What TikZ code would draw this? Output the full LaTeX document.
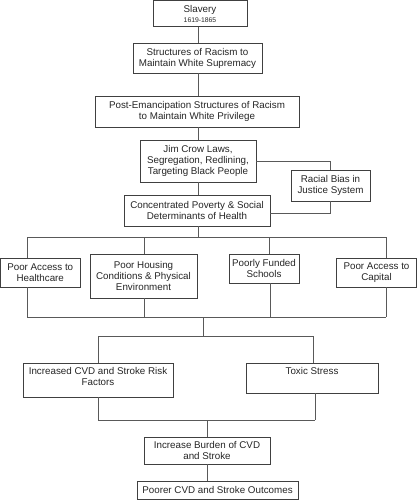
\documentclass[tikz,border=0pt]{standalone}
\usepackage{fontspec}
\setmainfont{Liberation Sans}
\begin{document}
\begin{tikzpicture}[x=1pt,y=-1pt,
  box/.style={draw=black!75, line width=0.9pt, fill=white, inner sep=0pt, align=center,
    font=\fontsize{9.8}{11}\selectfont, text=black!85},
  txt/.style={inner sep=0pt, align=center, font=\fontsize{9.8}{11}\selectfont, text=black!85},
  conn/.style={draw=black!65, line width=0.9pt}]
\useasboundingbox (0,0) rectangle (417,500);
% boxes
\node[box, minimum width=94, minimum height=26] (slav) at (200,13.5) {Slavery\\[-1pt]{\fontsize{6.8}{8}\selectfont 1619-1865}};
\node[box, minimum width=129, minimum height=30] (struct) at (197.5,58) {Structures of Racism to\\Maintain White Supremacy};
\node[box, minimum width=204, minimum height=31] (post) at (197,111.5) {Post-Emancipation Structures of Racism\\to Maintain White Privilege};
\node[box, minimum width=116, minimum height=42] (jim) at (198,161) {Jim Crow Laws,\\Segregation, Redlining,\\Targeting Black People};
\node[box, minimum width=79, minimum height=31] (racial) at (330.5,185.5) {Racial Bias in\\Justice System};
\node[box, minimum width=146, minimum height=31] (conc) at (197,210.5) {Concentrated Poverty \& Social\\Determinants of Health};
\node[box, minimum width=79.5, minimum height=29] (health) at (40.25,272.5) {Poor Access to\\Healthcare};
\node[box, minimum width=107, minimum height=44] (housing) at (143.5,276) {Poor Housing\\Conditions \& Physical\\Environment};
\node[box, minimum width=70, minimum height=29] (schools) at (264,268.5) {Poorly Funded\\Schools};
\node[box, minimum width=79.5, minimum height=29] (capital) at (376.5,272.5) {Poor Access to\\Capital};
\node[box, minimum width=150, minimum height=34] (incr) at (98,380) {};
\node[txt, anchor=north] (incrt) at (98,367.5) {Increased CVD and Stroke Risk\\Factors};
\node[box, minimum width=132, minimum height=30] (toxic) at (312,378) {};
\node[txt, anchor=north] (toxict) at (312,367.5) {Toxic Stress};
\node[box, minimum width=126, minimum height=27] (burden) at (207,450.5) {Increase Burden of CVD\\and Stroke};
\node[box, minimum width=161, minimum height=18] (poorer) at (217.5,490) {Poorer CVD and Stroke Outcomes};
% bus coordinates
\coordinate (busA) at (198,237);
\coordinate (busAL) at (27,237);
\coordinate (busAR) at (386,237);
\coordinate (busB) at (203,317);
\coordinate (busBL) at (27,317);
\coordinate (busBR) at (386,317);
\coordinate (busC) at (203,336);
\coordinate (busCL) at (98,336);
\coordinate (busCR) at (313,336);
\coordinate (busD) at (207,420);
\coordinate (busDL) at (98,420);
\coordinate (busDR) at (315,420);
% connectors
\draw[conn] (198,0 |- slav.south) -- (198,0 |- struct.north);
\draw[conn] (198,0 |- struct.south) -- (198,0 |- post.north);
\draw[conn] (198,0 |- post.south) -- (jim.north);
\draw[conn] (jim.south) -- (198,0 |- conc.north);
\draw[conn] (jim.east) -| (racial.north);
\draw[conn] (racial.south) |- (conc.east |- 0,213);
\draw[conn] (198,0 |- conc.south) -- (busA);
\draw[conn] (busAL) -- (busAR);
\draw[conn] (busAL) -- (busAL |- health.north);
\draw[conn] (144,237) -- (144,0 |- housing.north);
\draw[conn] (269,237) -- (269,0 |- schools.north);
\draw[conn] (busAR) -- (busAR |- capital.north);
\draw[conn] (busBL |- health.south) -- (busBL);
\draw[conn] (144,0 |- housing.south) -- (144,317);
\draw[conn] (270,0 |- schools.south) -- (270,317);
\draw[conn] (busBR |- capital.south) -- (busBR);
\draw[conn] (busBL) -- (busBR);
\draw[conn] (busB) -- (busC);
\draw[conn] (busCL) -- (busCR);
\draw[conn] (busCL) -- (incr.north);
\draw[conn] (busCR) -- (busCR |- toxic.north);
\draw[conn] (incr.south) -- (busDL);
\draw[conn] (busDR |- toxic.south) -- (busDR);
\draw[conn] (busDL) -- (busDR);
\draw[conn] (busD) -- (burden.north);
\draw[conn] (207,0 |- burden.south) -- (207,0 |- poorer.north);
\end{tikzpicture}
\end{document}
